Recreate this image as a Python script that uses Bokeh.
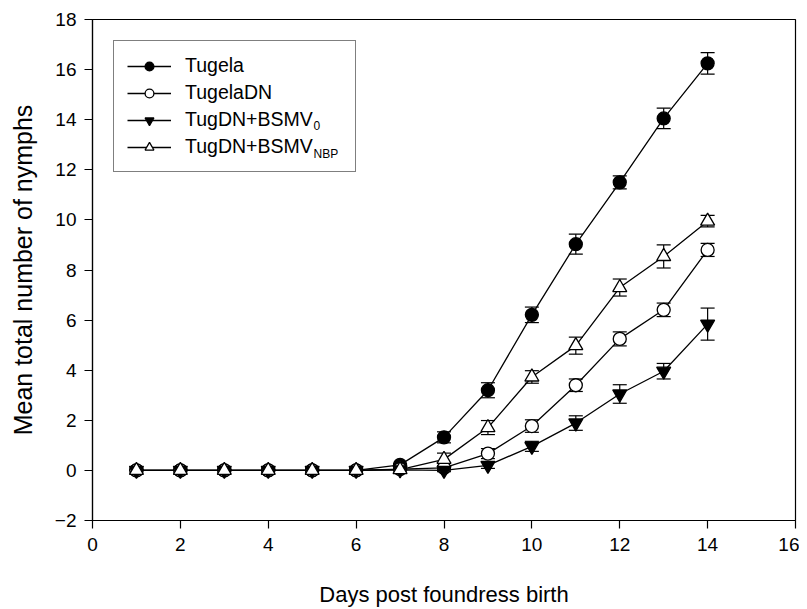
from bokeh.plotting import figure
from bokeh.models import Range1d, FixedTicker, Whisker, ColumnDataSource, Legend, LegendItem, Label, TeeHead
from bokeh.embed import file_html
from bokeh.resources import INLINE

days = [1, 2, 3, 4, 5, 6, 7, 8, 9, 10, 11, 12, 13, 14]

tugela = [0, 0, 0, 0, 0, 0, 0.22, 1.32, 3.2, 6.21, 9.03, 11.5, 14.05, 16.25]
tugela_se = [0, 0, 0, 0, 0, 0, 0.05, 0.22, 0.3, 0.31, 0.4, 0.26, 0.41, 0.43]

tugeladn = [0, 0, 0, 0, 0, 0, 0.05, 0.1, 0.67, 1.77, 3.4, 5.25, 6.41, 8.8]
tugeladn_se = [0, 0, 0, 0, 0, 0, 0.03, 0.08, 0.2, 0.25, 0.25, 0.28, 0.27, 0.26]

bsmv0 = [0, 0, 0, 0, 0, 0, 0.02, 0.0, 0.2, 0.96, 1.89, 3.05, 3.96, 5.84]
bsmv0_se = [0, 0, 0, 0, 0, 0, 0.02, 0.05, 0.12, 0.2, 0.29, 0.37, 0.31, 0.64]

bsmvnbp = [0, 0, 0, 0, 0, 0, 0.03, 0.44, 1.71, 3.73, 4.98, 7.3, 8.54, 9.95]
bsmvnbp_se = [0, 0, 0, 0, 0, 0, 0.03, 0.25, 0.28, 0.25, 0.34, 0.34, 0.46, 0.23]

x_ticks = [0, 2, 4, 6, 8, 10, 12, 14, 16]
y_ticks = [-2, 0, 2, 4, 6, 8, 10, 12, 14, 16, 18]

FONT = "Liberation Sans"

p = figure(width=799, height=609, output_backend="svg", toolbar_location=None,
           x_range=Range1d(0, 16), y_range=Range1d(-2, 18),
           min_border_left=92, min_border_right=4, min_border_top=19, min_border_bottom=84)
p.background_fill_color = "white"
p.border_fill_color = "white"
p.outline_line_color = "black"
p.outline_line_width = 1.2
p.xgrid.visible = False
p.ygrid.visible = False

for ax, ticks, lab in ((p.xaxis[0], x_ticks, "Days post foundress birth"),
                       (p.yaxis[0], y_ticks, "Mean total number of nymphs")):
    ax.ticker = FixedTicker(ticks=ticks)
    ax.axis_label = lab
    ax.axis_label_text_font = FONT
    ax.axis_label_text_font_style = "normal"
    ax.axis_label_text_color = "black"
    ax.major_label_text_font = FONT
    ax.major_label_text_font_size = "19px"
    ax.major_label_text_color = "black"
    ax.major_tick_out = 8
    ax.major_tick_in = 0
    ax.minor_tick_out = 0
    ax.minor_tick_in = 0
    ax.axis_line_color = "black"
    ax.axis_line_width = 1.2
    ax.major_tick_line_color = "black"
    ax.major_tick_line_width = 1.2

p.xaxis.axis_label_text_font_size = "22px"
p.yaxis.axis_label_text_font_size = "25px"
p.xaxis.major_label_standoff = 9
p.xaxis.axis_label_standoff = 28
p.yaxis.major_label_standoff = 8
p.yaxis.axis_label_standoff = 15

series = [
    ("Tugela", tugela, tugela_se, "circle", "black", 13),
    ("TugelaDN", tugeladn, tugeladn_se, "circle", "white", 13),
    ("TugDN+BSMV", bsmv0, bsmv0_se, "inverted_triangle", "black", 14),
    ("TugDN+BSMV", bsmvnbp, bsmvnbp_se, "triangle", "white", 14),
]

items = []
for name, vals, se, marker, fill, size in series:
    src = ColumnDataSource(dict(x=days, y=vals,
                                lo=[v - e for v, e in zip(vals, se)],
                                hi=[v + e for v, e in zip(vals, se)]))
    w = Whisker(source=src, base="x", upper="hi", lower="lo", level="underlay",
                line_color="black", line_width=1.2,
                upper_head=TeeHead(size=14, line_color="black", line_width=1.2),
                lower_head=TeeHead(size=14, line_color="black", line_width=1.2))
    p.add_layout(w)
    ln = p.line("x", "y", source=src, line_color="black", line_width=1.3)
    sc = p.scatter("x", "y", source=src, marker=marker, size=size,
                   fill_color=fill, line_color="black", line_width=1.3)
    items.append(LegendItem(label=name, renderers=[ln, sc]))

legend = Legend(items=items, location="top_left", margin=21, padding=13,
                spacing=4, glyph_width=44, glyph_height=22, label_height=22,
                label_width=157, label_standoff=14,
                label_text_font=FONT, label_text_font_size="19.5px",
                label_text_color="black",
                border_line_color="black", border_line_width=1.2,
                background_fill_alpha=0.0)
p.add_layout(legend)

sub_x = 5.03
p.add_layout(Label(x=sub_x, y=13.75, text="0", text_font=FONT, text_font_size="12px",
                   text_baseline="middle", text_color="black", level="overlay"))
p.add_layout(Label(x=sub_x, y=12.63, text="NBP", text_font=FONT, text_font_size="12px",
                   text_baseline="middle", text_color="black", level="overlay"))

open("out.html", "w").write(file_html(p, INLINE))
